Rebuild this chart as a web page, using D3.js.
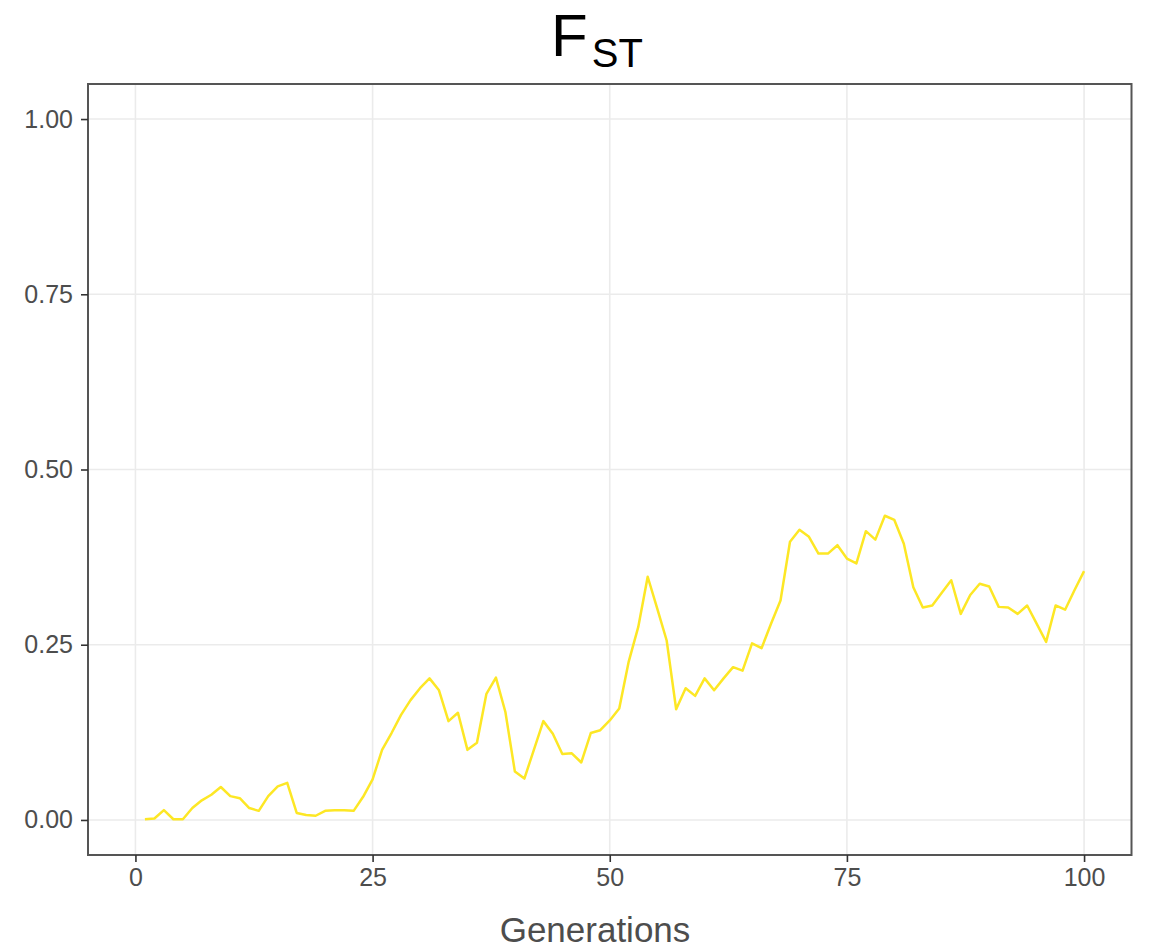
<!DOCTYPE html>
<html>
<head>
<meta charset="utf-8">
<script src="https://cdn.jsdelivr.net/npm/d3@7"></script>
<style>
  html, body { margin: 0; padding: 0; background: #fff; }
  svg { display: block; font-family: "Liberation Sans", Arial, sans-serif; }
</style>
</head>
<body>
<svg id="chart" width="1150" height="951"></svg>
<script>
// F_ST per generation (generations 1..100)
const generations = d3.range(1, 101);
const fst = [
  0.001, 0.002, 0.014, 0.001, 0.001, 0.017, 0.028, 0.036, 0.047, 0.034,
  0.031, 0.017, 0.013, 0.034, 0.048, 0.053, 0.010, 0.007, 0.006, 0.013,
  0.014, 0.014, 0.013, 0.033, 0.058, 0.100, 0.124, 0.150, 0.171, 0.188,
  0.202, 0.185, 0.141, 0.153, 0.100, 0.110, 0.180, 0.203, 0.154, 0.069,
  0.059, 0.100, 0.141, 0.123, 0.094, 0.095, 0.082, 0.124, 0.128, 0.142,
  0.159, 0.226, 0.275, 0.347, 0.302, 0.256, 0.158, 0.188, 0.177, 0.202,
  0.185, 0.202, 0.218, 0.213, 0.252, 0.245, 0.280, 0.313, 0.397, 0.414,
  0.404, 0.380, 0.380, 0.392, 0.373, 0.366, 0.412, 0.400, 0.434, 0.428,
  0.394, 0.332, 0.303, 0.306, 0.324, 0.342, 0.294, 0.321, 0.337, 0.333,
  0.304, 0.303, 0.294, 0.306, 0.280, 0.254, 0.306, 0.300, 0.328, 0.355
];
const xTicks = [0, 25, 50, 75, 100];
const yTicks = [0, 0.25, 0.5, 0.75, 1.0];

const panel = { left: 88, right: 1131.5, top: 84, bottom: 855 };

const svg = d3.select("#chart");

const x = d3.scaleLinear().domain([-5, 105]).range([panel.left, panel.right]);
const y = d3.scaleLinear().domain([-0.05, 1.05]).range([panel.bottom, panel.top]);

// grid lines
const grid = svg.append("g");
grid.selectAll("line.gx").data(xTicks).join("line")
  .attr("x1", d => x(d)).attr("x2", d => x(d))
  .attr("y1", panel.top).attr("y2", panel.bottom)
  .attr("stroke", "#ebebeb").attr("stroke-width", 1.6);
grid.selectAll("line.gy").data(yTicks).join("line")
  .attr("x1", panel.left).attr("x2", panel.right)
  .attr("y1", d => y(d)).attr("y2", d => y(d))
  .attr("stroke", "#ebebeb").attr("stroke-width", 1.6);

// data line
const line = d3.line()
  .x((d, i) => x(generations[i]))
  .y(d => y(d));
svg.append("path")
  .datum(fst)
  .attr("d", line)
  .attr("fill", "none")
  .attr("stroke", "#FDE725")
  .attr("stroke-width", 2.5)
  .attr("stroke-linejoin", "round");

// panel border
svg.append("rect")
  .attr("x", panel.left).attr("y", panel.top)
  .attr("width", panel.right - panel.left)
  .attr("height", panel.bottom - panel.top)
  .attr("fill", "none")
  .attr("stroke", "#555").attr("stroke-width", 2);

// axes
const xAxis = d3.axisBottom(x).tickValues(xTicks).tickFormat(d3.format("d"))
  .tickSize(7).tickPadding(6);
const yAxis = d3.axisLeft(y).tickValues(yTicks).tickFormat(d3.format(".2f"))
  .tickSize(7).tickPadding(8);

const gx = svg.append("g").attr("transform", `translate(0,${panel.bottom})`).call(xAxis);
const gy = svg.append("g").attr("transform", `translate(${panel.left},0)`).call(yAxis);
[gx, gy].forEach(g => {
  g.select(".domain").remove();
  g.selectAll(".tick line").attr("stroke", "#333").attr("stroke-width", 1.6);
  g.selectAll(".tick text")
    .attr("fill", "#4d4d4d")
    .style("font-size", "25px")
    .style("font-family", "'Liberation Sans', Arial, sans-serif");
});

// axis title
svg.append("text")
  .attr("x", 595).attr("y", 942)
  .attr("text-anchor", "middle")
  .attr("fill", "#4d4d4d")
  .style("font-size", "35px")
  .text("Generations");

// plot title: F with subscript ST
const title = svg.append("text")
  .attr("x", 597).attr("y", 56)
  .attr("text-anchor", "middle")
  .attr("fill", "#000");
title.append("tspan").style("font-size", "60px").text("F");
title.append("tspan").attr("dy", 11).attr("dx", 4).style("font-size", "40px").text("ST");
</script>
</body>
</html>
